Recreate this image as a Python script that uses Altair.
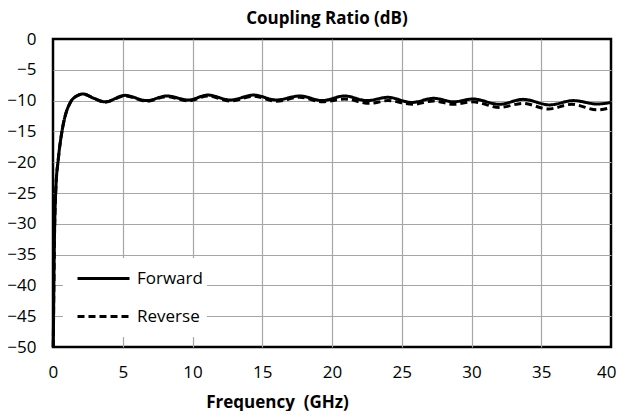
import altair as alt
import pandas as pd

fwd_f = [0.02, 0.1, 0.2, 0.38, 0.62, 0.86, 1.22, 1.7, 2.17, 2.9, 3.73, 5.16, 6.72, 8.15, 9.7,
         11.1, 12.7, 14.4, 16.0, 17.7, 19.3, 20.9, 22.5, 24.0, 25.7, 27.3, 28.7, 30.1, 32.0,
         33.7, 35.6, 37.3, 39.0, 40.0]
fwd_db = [-50, -33, -24.5, -19.5, -15.3, -12.6, -10.4, -9.25, -8.93, -9.6, -10.2, -9.15, -10.0,
          -9.25, -9.9, -9.1, -9.9, -9.1, -9.9, -9.25, -10.0, -9.25, -10.0, -9.47, -10.3, -9.63,
          -10.2, -9.74, -10.6, -9.8, -10.7, -10.0, -10.55, -10.3]

rev_f = [0.02, 0.1, 0.2, 0.38, 0.62, 0.86, 1.22, 1.7, 2.17, 2.9, 3.73, 5.16, 6.72, 8.15, 9.7,
         11.1, 12.7, 14.4, 16.0, 17.7, 19.3, 20.9, 22.7, 24.0, 25.8, 27.3, 28.7, 30.1, 32.0,
         33.7, 35.5, 37.2, 39.0, 40.0]
rev_db = [-50, -33, -24.5, -19.5, -15.3, -12.6, -10.4, -9.25, -8.93, -9.6, -10.25, -9.25, -10.1,
          -9.35, -10.05, -9.25, -10.05, -9.3, -10.1, -9.45, -10.2, -9.74, -10.45, -10.0, -10.6,
          -10.06, -10.6, -10.2, -11.1, -10.45, -11.36, -10.6, -11.5, -11.15]

series = ["Forward", "Reverse"]

df = pd.concat([
    pd.DataFrame({"f": fwd_f, "db": fwd_db, "s": series[0], "o": range(len(fwd_f))}),
    pd.DataFrame({"f": rev_f, "db": rev_db, "s": series[1], "o": range(len(rev_f))}),
])

FONT = "Open Sans"

x_axis = alt.Axis(
    values=list(range(0, 41, 5)), ticks=False, domain=False, labelFont=FONT, labelFontSize=17,
    labelColor="black", labelPadding=17, labelFlush=True, labelFlushOffset=5,
    gridColor="#a6a6a6", gridWidth=1.2,
    gridOpacity={"condition": {"test": "datum.value === 0 || datum.value === 40", "value": 0}, "value": 1},
    title="Frequency \u00a0(GHz)", titleFont=FONT, titleFontSize=17, titleFontWeight="bold",
    titleColor="black", titleX=224, titleY=60, titleBaseline="alphabetic", titleAlign="center",
)
y_axis = alt.Axis(
    values=list(range(-50, 1, 5)), ticks=False, domain=False, labelFont=FONT, labelFontSize=17,
    labelColor="black", labelPadding=17, labelFlush=False, gridColor="#a6a6a6", gridWidth=1.2,
    gridOpacity={"condition": {"test": "datum.value === 0 || datum.value === -50", "value": 0}, "value": 1},
    title=None,
)

chart = alt.Chart(df).mark_line(color="black", strokeWidth=3, interpolate="monotone").encode(
    x=alt.X("f:Q", scale=alt.Scale(domain=[0, 40], nice=False, zero=False), axis=x_axis),
    y=alt.Y("db:Q", scale=alt.Scale(domain=[-50, 0], nice=False), axis=y_axis),
    strokeDash=alt.StrokeDash(
        "s:N",
        scale=alt.Scale(domain=series, range=[[1, 0], [7, 4]]),
        legend=alt.Legend(
            title=None, orient="none", legendX=10, legendY=219, symbolType="stroke",
            symbolSize=2704, symbolStrokeWidth=3, symbolStrokeColor="black",
            symbolOffset=9, labelFont=FONT, labelFontSize=17, labelColor="black",
            labelOffset=6, fillColor="white", padding=4, clipHeight=33, rowPadding=5,
        ),
    ),
    order="o:Q",
).properties(
    width=558, height=308,
    title=alt.TitleParams("Coupling Ratio (dB)", font=FONT, fontSize=17, fontWeight="bold",
                          color="black", anchor="middle", offset=2, dx=-5),
    padding={"left": 45, "top": 31, "right": 6, "bottom": 64},
    autosize=alt.AutoSizeParams(type="none"),
).configure(background="white").configure_view(stroke="black", strokeWidth=2.5)

chart.save("out.html", embed_options={"renderer": "svg", "actions": False})
